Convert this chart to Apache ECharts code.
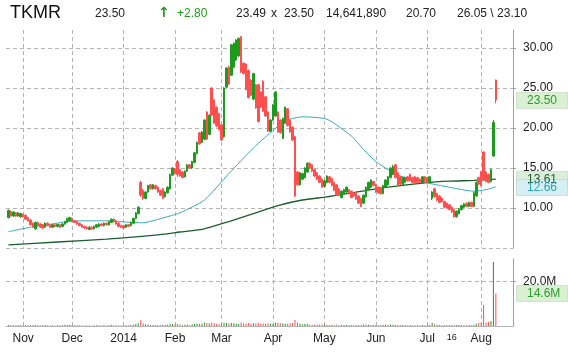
<!DOCTYPE html>
<html>
<head>
<meta charset="utf-8">
<script src="https://cdn.jsdelivr.net/npm/echarts@6/dist/echarts.min.js"></script>
<style>
html, body { margin: 0; padding: 0; background: #fff; }
#container { width: 568px; height: 353px; }
</style>
</head>
<body>
<div id="container"></div>
<script>
// daily prices, 2013-10-24 .. 2014-08-11
var opens = [
  8.8,9.6,9.0,9.4,9.0,8.9,9.2,9.1,8.8,8.5,
  8.1,7.4,8.2,8.0,7.9,7.6,8.1,7.9,7.6,7.9,
  7.7,7.9,7.7,8.0,8.2,8.4,8.7,8.4,8.3,8.1,
  7.9,7.7,7.6,7.3,7.6,7.4,7.6,7.7,8.0,7.8,
  8.1,7.9,8.2,8.6,8.4,8.1,7.8,7.8,7.6,7.9,
  7.8,8.1,8.7,9.3,13.2,12.2,11.2,12.0,12.9,12.4,
  12.8,12.6,12.2,12.4,11.4,11.9,12.4,14.1,14.9,15.8,
  14.8,14.5,13.9,14.6,15.4,15.0,15.7,16.8,19.4,18.2,
  18.6,22.0,19.2,25.0,23.5,22.6,21.8,20.4,18.9,25.1,
  27.6,26.6,27.6,28.5,29.0,31.4,28.1,28.0,27.2,26.0,
  23.6,25.4,25.4,24.5,25.8,23.9,22.0,19.6,21.0,21.5,
  22.0,21.0,18.7,20.6,22.4,21.0,20.1,18.9,14.5,12.9,
  13.6,13.8,14.5,15.6,15.4,14.8,14.4,14.0,13.6,12.7,
  13.2,13.9,13.7,13.2,12.9,12.4,11.3,11.8,12.0,12.3,
  12.1,11.9,11.9,11.5,11.2,10.6,11.4,12.3,12.6,13.3,
  12.9,12.6,12.5,11.8,12.6,12.9,13.8,14.2,15.4,14.4,
  13.9,12.9,13.2,13.9,14.2,13.8,13.9,13.8,13.6,13.1,
  13.9,13.8,13.2,11.2,12.4,11.8,11.5,11.2,10.8,10.6,
  10.4,10.1,9.8,8.9,9.3,9.8,10.1,10.6,10.2,10.7,
  10.2,11.5,13.8,14.5,17.0,14.5,14.2,13.3,16.5,26.0
];
var closes = [
  9.7,9.0,9.5,9.0,9.4,9.3,8.9,8.6,8.4,7.9,
  7.6,8.2,7.8,7.6,7.5,8.1,7.8,7.6,7.9,7.7,
  7.95,7.6,8.0,8.3,8.7,8.8,8.3,8.2,8.0,7.8,
  7.6,7.5,7.4,7.6,7.4,7.7,7.9,8.0,7.8,8.1,
  7.9,8.3,8.6,8.3,8.0,7.7,7.6,7.5,7.9,7.7,
  8.2,8.7,9.4,10.1,11.6,11.2,12.0,12.8,12.4,12.9,
  12.4,12.0,11.6,11.2,12.0,12.6,14.2,15.0,14.3,14.2,
  14.0,13.8,14.6,15.4,15.0,15.8,16.9,18.2,18.0,19.5,
  21.0,18.6,21.6,21.6,20.6,20.3,19.8,18.5,25.0,27.5,
  25.5,30.4,30.6,31.0,31.2,27.0,26.8,24.8,23.8,24.1,
  26.8,22.5,20.8,22.6,22.1,21.5,19.6,21.0,22.9,24.5,
  19.5,19.4,21.2,22.6,20.3,19.5,18.5,11.5,12.9,14.4,
  14.3,15.0,15.6,15.0,14.6,14.0,13.6,13.2,12.6,13.4,
  14.0,13.2,12.8,12.2,11.6,11.6,12.1,12.3,12.6,11.8,
  11.3,11.5,11.1,10.6,10.2,11.6,12.6,13.2,13.5,12.8,
  12.0,11.9,11.8,12.8,13.5,13.9,15.0,15.2,13.8,12.8,
  13.0,13.8,13.8,13.4,13.4,13.2,13.1,13.2,13.2,13.9,
  13.3,13.2,13.9,12.0,11.4,11.0,10.7,10.8,10.1,10.0,
  9.8,9.5,8.9,9.6,9.9,10.3,10.5,10.2,10.7,10.2,
  11.9,13.2,13.0,12.8,13.5,13.3,13.2,14.8,20.7,23.5
];
var lows = [
  8.7,8.9,8.9,8.9,8.9,8.8,8.8,8.5,8.3,7.8,
  7.5,7.25,7.7,7.5,7.4,7.5,7.7,7.5,7.5,7.6,
  7.6,7.5,7.6,7.9,8.1,8.3,8.2,8.1,7.9,7.7,
  7.5,7.4,7.3,7.25,7.3,7.3,7.5,7.6,7.7,7.7,
  7.8,7.8,8.1,8.2,7.9,7.6,7.5,7.4,7.5,7.6,
  7.7,8.0,8.6,9.2,11.4,11.0,11.1,11.9,12.3,12.3,
  12.3,11.9,11.5,11.1,11.3,11.8,12.3,14.0,14.2,13.9,
  13.9,13.7,13.8,14.5,14.9,14.9,15.6,16.7,17.9,18.1,
  18.5,18.5,19.1,21.5,20.5,20.1,19.7,18.4,18.8,25.0,
  25.4,26.5,27.5,28.4,28.9,26.9,26.7,24.7,23.7,24.0,
  23.5,22.4,20.7,22.5,22.0,21.4,19.5,19.5,20.9,21.4,
  19.4,19.3,18.6,20.5,20.2,19.4,18.4,11.4,12.8,12.8,
  13.5,13.7,14.4,14.9,14.5,13.9,13.5,13.1,12.5,12.6,
  13.1,13.1,12.7,12.1,11.5,11.5,11.2,11.7,11.9,11.7,
  11.2,11.4,11.0,10.5,10.1,10.5,11.3,12.2,12.5,12.7,
  11.9,11.8,11.7,11.7,12.5,12.8,13.7,14.1,13.7,12.7,
  12.9,12.8,13.1,13.3,13.3,13.1,13.0,13.1,13.1,13.0,
  13.2,13.1,13.1,11.0,11.3,10.9,10.6,10.7,10.0,9.9,
  9.7,9.4,8.8,8.8,9.2,9.7,10.0,10.1,10.1,10.1,
  10.1,11.4,12.9,12.7,13.4,13.2,13.1,13.2,16.4,23.1
];
var highs = [
  9.8,9.7,9.6,9.5,9.5,9.4,9.3,9.2,8.9,8.6,
  8.2,8.3,8.3,8.1,8.0,8.2,8.2,8.0,8.0,8.0,
  8.0,8.0,8.1,8.4,8.8,8.9,8.8,8.5,8.4,8.2,
  8.0,7.8,7.7,7.7,7.7,7.8,8.0,8.1,8.1,8.2,
  8.2,8.4,8.7,8.7,8.5,8.2,7.9,7.9,8.0,8.0,
  8.3,8.8,9.5,10.2,13.4,12.4,12.1,12.9,13.0,13.0,
  12.9,12.7,12.3,12.5,12.1,12.7,14.3,15.1,15.0,16.0,
  14.9,14.6,14.7,15.5,15.5,15.9,17.0,18.3,19.5,19.6,
  21.1,22.1,21.7,25.1,23.6,22.7,21.9,20.5,25.1,27.6,
  27.8,30.5,30.7,31.1,31.3,31.5,28.2,28.1,27.3,26.1,
  26.9,25.5,25.5,24.6,26.0,24.0,22.1,21.1,23.0,24.6,
  22.1,21.1,21.3,22.7,22.5,21.1,20.2,19.0,14.6,14.5,
  14.4,15.1,15.7,15.7,15.5,14.9,14.5,14.1,13.7,13.5,
  14.1,14.0,13.8,13.3,13.0,12.5,12.2,12.4,12.7,12.4,
  12.2,12.0,12.0,11.6,11.3,11.7,12.7,13.3,13.6,13.4,
  13.0,12.7,12.6,12.9,13.6,14.0,15.1,15.4,15.5,14.5,
  14.0,13.9,13.9,14.0,14.3,13.9,14.0,13.9,13.7,14.0,
  14.0,13.9,14.0,12.1,12.5,11.9,11.6,11.3,10.9,10.7,
  10.5,10.2,9.9,9.7,10.0,10.4,10.6,10.7,10.8,10.8,
  12.0,13.3,13.9,14.6,17.1,14.6,14.3,14.9,21.0,26.05
];
// volume, millions of shares
var volumes = [
  0.5,0.4,0.3,0.3,0.4,0.3,
  0.3,0.4,0.4,0.5,0.4,0.5,0.3,0.3,0.3,0.4,0.3,0.2,0.3,0.2,0.3,0.3,0.3,0.4,0.5,0.4,
  0.4,0.3,0.3,0.3,0.3,0.2,0.3,0.2,0.2,0.3,0.3,0.3,0.2,0.3,0.2,0.3,0.4,0.3,0.3,0.3,0.2,
  0.3,0.3,0.2,0.4,0.6,0.9,1.2,2.6,1.1,0.8,0.7,0.5,0.5,0.4,0.4,0.5,0.6,0.5,0.6,1.0,0.9,
  0.8,0.9,0.7,0.5,0.6,0.7,0.5,0.7,0.9,1.1,1.0,0.9,1.4,1.3,1.1,1.6,1.2,0.9,0.8,
  0.9,1.5,1.3,1.1,1.3,1.2,1.0,0.9,1.6,1.1,1.0,1.3,0.9,1.2,1.1,1.4,0.9,1.1,1.0,1.2,1.0,
  0.9,1.3,1.5,1.2,1.1,1.0,0.9,1.1,1.3,2.7,1.6,1.0,0.8,0.9,1.0,0.7,0.6,0.6,0.7,0.6,0.7,
  0.6,0.5,0.5,0.6,0.6,0.7,0.5,0.5,0.4,0.4,0.4,0.5,0.4,0.5,0.5,0.6,0.7,0.6,0.6,0.5,0.4,
  0.5,0.4,0.4,0.5,0.6,0.5,0.7,0.6,0.6,0.5,0.4,0.4,0.3,0.3,0.4,0.3,0.3,0.3,0.3,0.4,0.3,
  0.4,0.4,1.3,0.8,0.6,0.5,0.4,0.5,0.4,0.4,0.4,0.5,0.4,0.4,0.3,0.3,0.3,0.4,0.3,0.6,1.0,1.4,
  1.5,9.5,1.5,1.8,2.2,28.7,14.6
];
// moving averages (day index -> value)
var ma50Days = [0,10,20,25,30,40,50,55,60,70,80,90,100,110,115,120,130,140,145,150,155,160,170,180,190,195,199];
var ma50Vals = [7.04,7.65,8.1,8.35,8.4,8.4,8.2,8.15,8.5,9.4,11.0,14.3,17.5,20.2,21.1,21.4,21.1,19.0,17.3,15.8,14.8,14.0,13.2,12.6,12.1,12.3,12.66];
var ma200Days = [0,20,40,60,70,80,90,100,110,120,130,140,150,160,170,180,190,199];
var ma200Vals = [5.4,5.75,6.1,6.6,7.0,7.4,8.3,9.3,10.3,11.0,11.4,11.9,12.4,12.8,13.15,13.35,13.45,13.61];

var firstDay = '2013-10-24';
var holidays = ['2013-11-28','2013-12-25','2014-01-01','2014-01-20','2014-02-17','2014-04-18','2014-05-26','2014-07-04'];
var monthNames = ['Jan','Feb','Mar','Apr','May','Jun','Jul','Aug','Sep','Oct','Nov','Dec'];
var markDay = '2014-07-16';

var padLeft = 1, padRight = 7;
var green = '#1e9a1e', red = '#ff4f4f';

// trading calendar
var dates = [];
var d = new Date(firstDay + 'T00:00:00Z');
while (dates.length < closes.length) {
  var s = d.toISOString().slice(0, 10);
  var wd = d.getUTCDay();
  if (wd !== 0 && wd !== 6 && holidays.indexOf(s) < 0) dates.push(s);
  d.setUTCDate(d.getUTCDate() + 1);
}

var cats = [], candle = [], vol = [], ma50 = [], ma200 = [];
var labelMap = {};
for (var i = 0; i < padLeft; i++) { cats.push('p' + i); candle.push('-'); vol.push('-'); ma50.push(null); ma200.push(null); }
dates.forEach(function (s, k) {
  var idx = cats.length;
  cats.push(s);
  candle.push([opens[k], closes[k], lows[k], highs[k]]);
  vol.push({ value: volumes[k], itemStyle: { color: closes[k] >= opens[k] ? green : red } });
  var a = ma50Days.indexOf(k); ma50.push(a >= 0 ? ma50Vals[a] : null);
  var b = ma200Days.indexOf(k); ma200.push(b >= 0 ? ma200Vals[b] : null);
  if (k > 0 && s.slice(5, 7) !== dates[k - 1].slice(5, 7)) {
    var m = +s.slice(5, 7);
    labelMap[idx] = m === 1 ? s.slice(0, 4) : monthNames[m - 1];
  }
  if (s === markDay) labelMap[idx] = '{s|' + (+s.slice(8)) + '}';
});
for (var j = 0; j < padRight; j++) { cats.push('q' + j); candle.push('-'); vol.push('-'); ma50.push(null); ma200.push(null); }

function isMonthStart(i) {
  return labelMap[i] !== undefined && labelMap[i].charAt(0) !== '{';
}

var font = 'Liberation Sans, Arial, sans-serif';
var gridLine = { show: true, interval: function (i) { return isMonthStart(i); }, lineStyle: { color: '#b4b4b4', type: [4, 3], width: 1 } };

var dom = document.getElementById('container');
var myChart = echarts.init(dom);

var option = {
  animation: false,
  backgroundColor: '#fff',
  grid: [
    { left: 6, right: 55, top: 30, height: 218 },
    { left: 6, right: 55, top: 259, height: 67 }
  ],
  xAxis: [
    {
      type: 'category', gridIndex: 0, data: cats, boundaryGap: false,
      axisLine: { show: false }, axisTick: { show: false }, axisLabel: { show: false },
      splitLine: gridLine
    },
    {
      type: 'category', gridIndex: 1, data: cats, boundaryGap: false,
      axisLine: { show: true, lineStyle: { color: '#b4b4b4' } },
      axisTick: { show: false },
      axisLabel: {
        interval: function (i) { return labelMap[i] !== undefined; },
        formatter: function (v, i) { return labelMap[i] || ''; },
        color: '#222', fontSize: 12, fontFamily: font, margin: 7,
        rich: { s: { fontSize: 9, fontFamily: font, color: '#222', padding: [0, 0, 8, 0] } }
      },
      splitLine: gridLine
    }
  ],
  yAxis: [
    {
      type: 'value', gridIndex: 0, position: 'right', min: 5, max: 32.25, interval: 5,
      axisLine: { show: true, lineStyle: { color: '#a0a0a0' } },
      axisTick: { show: true, length: 3, lineStyle: { color: '#a0a0a0' } },
      axisLabel: { color: '#222', fontSize: 12, fontFamily: font, margin: 10, showMaxLabel: false, showMinLabel: false,
        formatter: function (v) { return v.toFixed(2); } },
      splitLine: { show: true, showMaxLine: false, lineStyle: { color: '#b4b4b4', type: [4, 3] } }
    },
    {
      type: 'value', gridIndex: 1, position: 'right', min: 0, max: 30, interval: 20,
      axisLine: { show: true, lineStyle: { color: '#a0a0a0' } },
      axisTick: { show: true, length: 3, lineStyle: { color: '#a0a0a0' } },
      axisLabel: { color: '#222', fontSize: 12, fontFamily: font, margin: 10, showMaxLabel: false, showMinLabel: false,
        formatter: function (v) { return v.toFixed(1) + 'M'; } },
      splitLine: { show: true, showMaxLine: false, showMinLine: false, lineStyle: { color: '#b4b4b4', type: [4, 3] } }
    }
  ],
  series: [
    {
      type: 'line', xAxisIndex: 0, yAxisIndex: 0, data: ma200, connectNulls: true, smooth: 0.2,
      symbol: 'none', lineStyle: { color: '#1d5e2e', width: 1.3 }, z: 2
    },
    {
      type: 'line', xAxisIndex: 0, yAxisIndex: 0, data: ma50, connectNulls: true, smooth: 0.2,
      symbol: 'none', lineStyle: { color: '#3aa9b8', width: 1 }, z: 2
    },
    {
      type: 'candlestick', xAxisIndex: 0, yAxisIndex: 0, data: candle, barWidth: 2,
      itemStyle: { color: green, color0: red, borderColor: green, borderColor0: red, borderWidth: 1 }, z: 3
    },
    {
      type: 'bar', xAxisIndex: 1, yAxisIndex: 1, data: vol, barWidth: 1
    }
  ]
};

myChart.setOption(option);

// header line
var hdr = [
  ['TKMR', 10, 18, '#111', 'normal', font],
  ['23.50', 95, 12, '#222', 'normal', font],
  ['\u2191', 158, 14, green, 'bold', 'DejaVu Sans'],
  ['+2.80', 177, 12, green, 'normal', font],
  ['23.49', 236, 12, '#222', 'normal', font],
  ['x', 271, 12, '#222', 'normal', font],
  ['23.50', 284, 12, '#222', 'normal', font],
  ['14,641,890', 326, 12, '#222', 'normal', font],
  ['20.70', 406, 12, '#222', 'normal', font],
  ['26.05 \\ 23.10', 457, 12, '#222', 'normal', font]
];
var graphics = hdr.map(function (h) {
  return { type: 'text', x: h[1], y: 13.5, style: { text: h[0], fontSize: h[2], fontWeight: h[4], fontFamily: h[5], fill: h[3], textVerticalAlign: 'middle' } };
});

// value tags on the right axis
var tags = [
  [0, 23.50, '23.50', '#2f9a2f', '#d9f1d2'],
  [0, 13.61, '13.61', '#1d5e2e', '#dbeed9'],
  [0, 12.66, '12.66', '#2fa3b3', '#d6eff4'],
  [1, 14.6, '14.6M', '#2f9a2f', '#d9f1d2']
];
tags.forEach(function (t) {
  var y = myChart.convertToPixel({ yAxisIndex: t[0] }, t[1]);
  graphics.push({ type: 'rect', shape: { x: 516.5, y: Math.round(y) - 7.5, width: 51, height: 16 },
    style: { fill: t[4], stroke: '#b9cdb5', lineWidth: 1, lineDash: [1, 1] }, z: 10 });
  graphics.push({ type: 'text', x: 527, y: y + 0.5, style: { text: t[2], fontSize: 12, fontFamily: font, fill: t[3], textVerticalAlign: 'middle' }, z: 11 });
});

myChart.setOption({ graphic: graphics });
</script>
</body>
</html>
